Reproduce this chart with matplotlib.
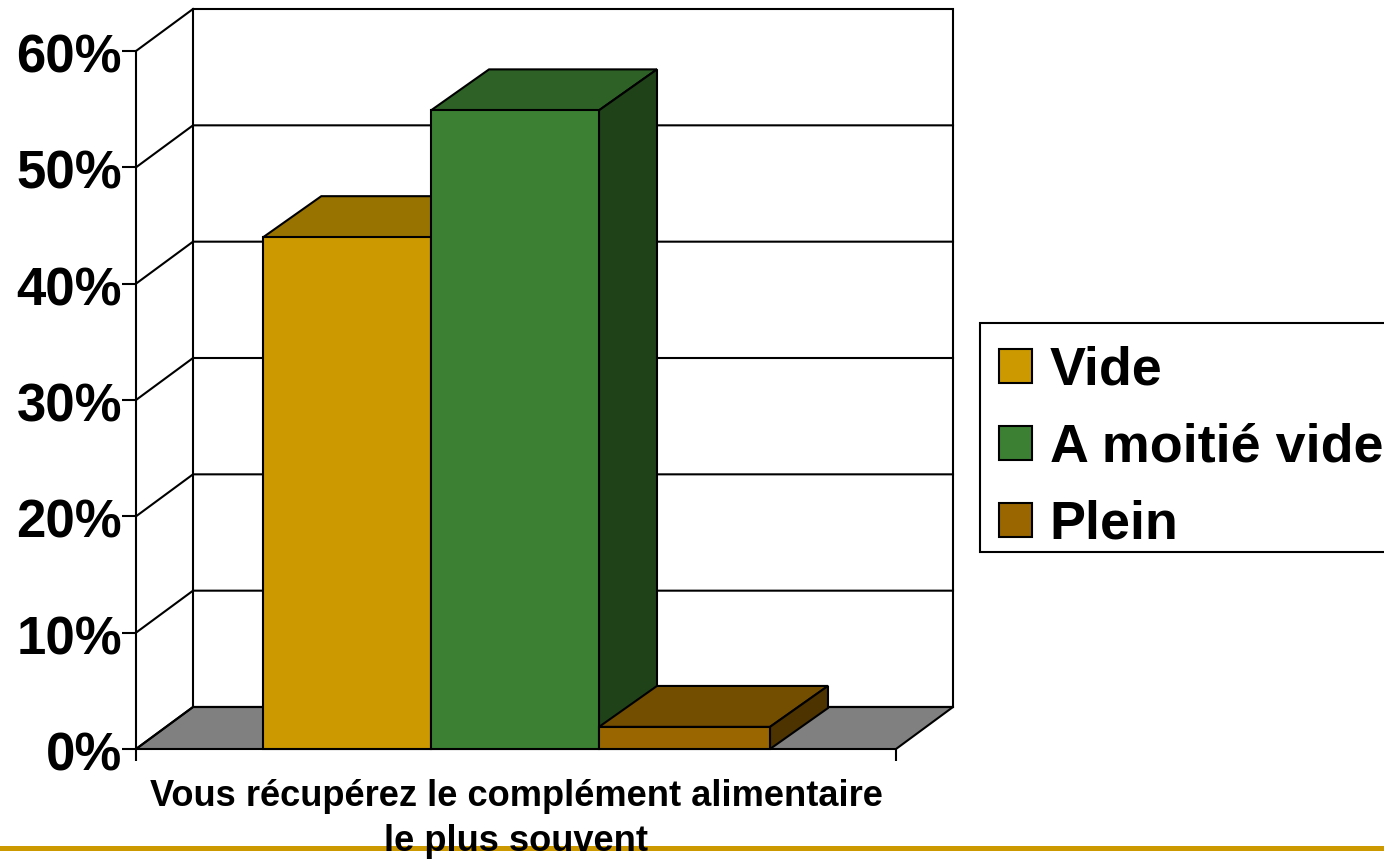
import matplotlib
matplotlib.use("Agg")
import matplotlib.pyplot as plt
from matplotlib.patches import Patch, Polygon, Rectangle
from matplotlib.transforms import ScaledTranslation

plt.rcParams["font.family"] = ["Liberation Sans", "DejaVu Sans"]
plt.rcParams["font.weight"] = "bold"

categories = ["Vide", "A moitié vide", "Plein"]
values = [44, 54.9, 1.9]
positions = [0.278, 0.4987, 0.7217]
widths = [0.221, 0.221, 0.225]
front_colors = ["#CC9900", "#3C8133", "#996600"]
top_colors = ["#997300", "#2D6126", "#734D00"]
side_colors = ["#806000", "#1F4219", "#4D3300"]
y_ticks = [0, 10, 20, 30, 40, 50, 60]
y_labels = ["0%", "10%", "20%", "30%", "40%", "50%", "60%"]
x_label = "Vous récupérez le complément alimentaire\nle plus souvent"

W, H = 1384, 859
fig = plt.figure(figsize=(W / 100, H / 100), dpi=100)
# front plane of the fake 3d box
ax = fig.add_axes([136 / W, 1 - 749 / H, 760 / W, 698 / H])
ax.set_xlim(0, 1)
ax.set_ylim(0, 60)
ax.patch.set_visible(False)
for s in ax.spines.values():
    s.set_visible(False)

# depth of the box and of the bars, in data units
dx = 57 / 760
dy = 3.61
bar_dx = 58 / 760
bar_dy = 3.52
lw = 1.5
top = 60

# floor
ax.add_patch(Polygon([(0, 0), (1, 0), (1 + dx, dy), (dx, dy)], fc="#808080", ec="k", lw=lw, clip_on=False, zorder=1))
# back wall and side wall
ax.add_patch(Polygon([(dx, dy), (1 + dx, dy), (1 + dx, top + dy), (dx, top + dy)], fc="white", ec="k", lw=lw, clip_on=False, zorder=0))
ax.plot([0, 0], [0, top], color="k", lw=lw, clip_on=False, zorder=1)
ax.plot([0, dx], [top, top + dy], color="k", lw=lw, clip_on=False, zorder=1)
for t in y_ticks[:-1]:
    ax.plot([0, dx, 1 + dx], [t, t + dy, t + dy], color="k", lw=lw, clip_on=False, zorder=1)

# bars, left to right so the later ones cover the earlier ones
for i in range(3):
    x0 = positions[i] - widths[i] / 2
    x1 = positions[i] + widths[i] / 2
    v = values[i]
    ax.add_patch(Polygon([(x0, v), (x1, v), (x1 + bar_dx, v + bar_dy), (x0 + bar_dx, v + bar_dy)], fc=top_colors[i], ec="k", lw=lw, clip_on=False, zorder=3 + i))
    ax.add_patch(Polygon([(x1, 0), (x1 + bar_dx, bar_dy), (x1 + bar_dx, v + bar_dy), (x1, v)], fc=side_colors[i], ec="k", lw=lw, clip_on=False, zorder=3 + i))
    ax.bar(positions[i], v, width=widths[i], color=front_colors[i], edgecolor="k", linewidth=lw, zorder=3 + i, clip_on=False)

ax.set_yticks(y_ticks)
ax.set_yticklabels(y_labels, fontsize=38, fontweight="bold")
ax.tick_params(axis="y", length=10, width=lw, pad=0)
# tick labels sit a little under their ticks
for lab in ax.get_yticklabels():
    lab.set_transform(lab.get_transform() + ScaledTranslation(0, -2 / 100, fig.dpi_scale_trans))
ax.set_xticks([0, 1])
ax.set_xticklabels(["", ""])
ax.tick_params(axis="x", length=8.5, width=lw)
ax.text(0.5, -0.043, x_label, transform=ax.transAxes, ha="center", va="top", fontsize=26.1, fontweight="bold", linespacing=1.36, clip_on=False)

# legend box is drawn apart, its bottom margin is tighter than the top one
fig.add_artist(Rectangle((980 / W, 1 - 552 / H), 420 / W, 229 / H, transform=fig.transFigure, fc="white", ec="k", lw=lw, zorder=1))
handles = [Patch(facecolor=c, edgecolor="k", linewidth=lw) for c in front_colors]
fig.legend(handles, categories, loc="upper left", bbox_to_anchor=(980 / W, 1 - 327 / H), borderaxespad=0,
           fontsize=38.8, frameon=False, handlelength=0.61, handleheight=0.59, handletextpad=0.33,
           labelspacing=0.5, borderpad=0.35)

# gold rule of the slide along the bottom
fig.add_artist(plt.Line2D([0, 1], [1 - 847.5 / H, 1 - 847.5 / H], color="#CC9900", lw=3.6, zorder=-1))

fig.savefig("out.png", dpi=100)
